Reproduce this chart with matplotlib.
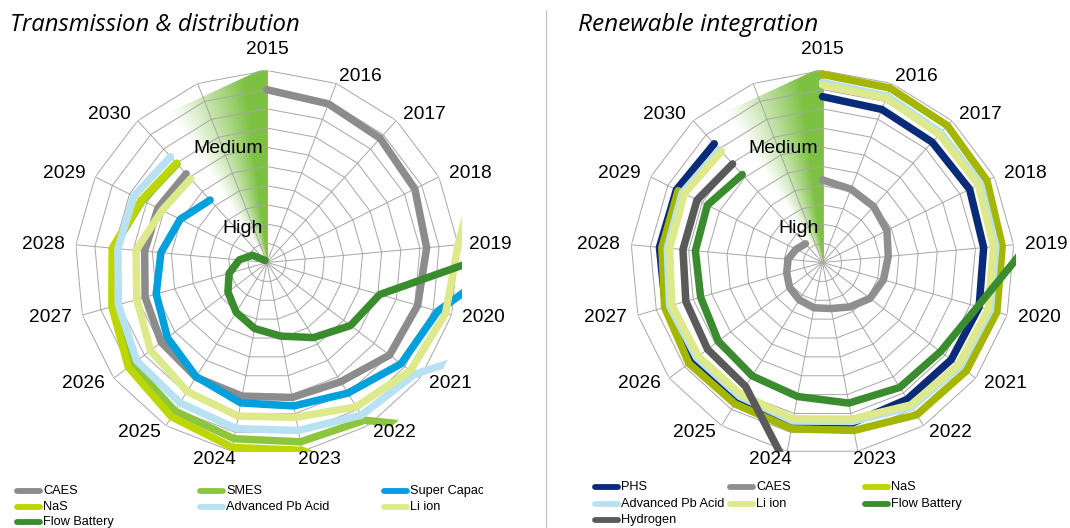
import numpy as np
import matplotlib
matplotlib.use("Agg")
import matplotlib.pyplot as plt
from matplotlib.transforms import Bbox, TransformedBbox
from matplotlib.lines import Line2D
from matplotlib.patches import Polygon

nan = np.nan

# ---------------- data ----------------
years = [str(y) for y in range(2015, 2031)]
n_spokes = 17  # 16 years + one blank category

td_names = ["CAES", "SMES", "Super Capacitor", "NaS", "Advanced Pb Acid", "Li ion", "Flow Battery"]
td_caes = [9.0, 8.86, 8.75, 8.6, 8.35, 8.16, 8.0, 7.3, 7.15, 7.08, 7.03, 6.9, 6.6, 6.4, 6.35, 6.25]
td_smes = [nan, nan, nan, nan, nan, nan, 14.8, 9.66, 9.5, 9.34, 9.1, 8.8, 8.35, 8.05, 7.25, 6.95]
td_supercap = [nan, nan, nan, nan, 14.3, 9.25, 8.75, 8.0, 7.6, 7.44, 7.0, 6.5, 6.0, 5.55, 5.05, 4.4]
td_nas = [nan, nan, nan, nan, nan, nan, nan, 14.5, 9.95, 9.8, 9.45, 9.05, 8.4, 8.1, 7.3, 7.0]
td_pbacid = [nan, nan, nan, nan, nan, 14.2, 9.65, 9.35, 8.9, 8.8, 8.6, 8.5, 8.05, 7.8, 7.75, 7.45]
td_liion = [nan, nan, nan, 12.5, 10.0, 9.67, 9.35, 8.84, 8.2, 8.14, 7.9, 7.6, 7.05, 6.85, 6.1, 5.9]
td_flow = [nan, nan, nan, nan, 14.4, 6.1, 5.45, 4.6, 3.9, 3.5, 3.05, 2.55, 2.05, 1.45, 0.85, 0.15]

ri_names = ["PHS", "CAES", "NaS", "Advanced Pb Acid", "Li ion", "Flow Battery", "Hydrogen"]
ri_phs = [8.64, 8.55, 8.48, 8.56, 8.43, 8.48, 8.4, 8.38, 8.5, 8.5, 8.45, 8.5, 8.5, 8.53, 8.5, 8.37]
ri_caes = [4.3, 4.1, 3.95, 3.75, 3.44, 3.3, 3.1, 2.72, 2.44, 2.4, 2.29, 2.15, 1.94, 1.8, 1.54, 1.32]
ri_nas = [9.8, 9.74, 9.65, 9.57, 9.4, 9.44, 9.38, 9.33, 8.9, 8.81, 8.66, 8.72, 8.55, 8.4, 8.4, nan]
ri_pbacid = [9.38, 9.3, 9.15, 9.19, 9.07, 9.09, 8.98, 8.85, 8.42, 8.4, 8.2, 8.22, 8.28, 8.12, 8.16, 7.95]
ri_liion = [9.25, 9.18, 9.03, 9.07, 8.95, 8.97, 8.86, 8.73, 8.3, 8.28, 8.08, 8.1, 8.16, 8.0, 8.04, 7.82]
ri_flow = [nan, nan, nan, nan, 10.8, 8.4, 7.7, 7.65, 7.45, 7.1, 6.95, 6.8, 6.6, 6.65, 6.7, 6.2]
ri_h2 = [nan, nan, nan, nan, nan, nan, nan, nan, nan, 10.6, 7.6, 7.5, 7.4, 7.3, 7.3, 6.95]

level_labels = ["Low", "Medium", "High"]
level_values = [10.2, 5.95, 1.75]

# ---------------- styling ----------------
W, H = 1070, 528
UNIT = 19.2
GRID = "#A6A6A6"
LW = 5.4
td_colors = ["#8C8C8C", "#8CC63F", "#00A0DC", "#BED600", "#B8E2F2", "#DDE98A", "#3B8C2F"]
ri_colors = ["#0A2C78", "#8F8F8F", "#A4B600", "#B8E2F2", "#DDE98A", "#3B8C2F", "#5A5A5A"]
ri_legend_colors = ["#0A2C78", "#8F8F8F", "#BED600", "#B8E2F2", "#DDE98A", "#3B8C2F", "#5A5A5A"]
LABEL_FONT = "Liberation Sans"
WEDGE_GREEN = np.array([0x7D, 0xC1, 0x43]) / 255.0
CLIP_R = 10.87

fig = plt.figure(figsize=(W / 100, H / 100), dpi=100)
theta = np.arange(n_spokes) * 2 * np.pi / n_spokes


def make_axes(cx, cy):
    ax = fig.add_axes([(cx - 192) / W, (H - cy - 192) / H, 384 / W, 384 / H], projection="polar")
    ax.set_theta_zero_location("N")
    ax.set_theta_direction(-1)
    ax.set_ylim(0, 10)
    ax.set_xticks([])
    ax.set_yticks([])
    ax.grid(False)
    ax.spines["polar"].set_visible(False)
    ax.set_facecolor("none")
    return ax


def draw_wedge(ax):
    a_pt = np.array([0.0, 10.15])
    phi_b = np.deg2rad(35)
    b_pt = np.array([-np.sin(phi_b) * 9.36, np.cos(phi_b) * 9.36])
    nsl = 70
    phis = np.linspace(0, 35, nsl + 1)

    def r_edge(phi_deg):
        p = np.deg2rad(phi_deg)
        d = np.array([-np.sin(p), np.cos(p)])
        m = np.array([d, a_pt - b_pt]).T
        t, s = np.linalg.solve(m, a_pt)
        return t

    for i in range(nsl):
        p0, p1 = phis[i], phis[i + 1]
        pm = 0.5 * (p0 + p1)
        a = np.clip((33.0 - pm) / 26.0, 0, 1) ** 1.1
        col = (1 - a) * np.ones(3) + a * WEDGE_GREEN
        th = [0, -np.deg2rad(p0), -np.deg2rad(p1)]
        rr = [0, r_edge(p0), r_edge(p1)]
        ax.fill(th, rr, color=col, lw=0.8, ec=col, zorder=0.5)


def draw_grid(ax):
    th_closed = np.append(theta, 2 * np.pi)
    for ring in range(1, 11):
        ax.plot(th_closed, [ring] * len(th_closed), color=GRID, lw=0.7, zorder=1)
    for k in range(n_spokes):
        ax.plot([theta[k], theta[k]], [0, 10], color=GRID, lw=0.7, zorder=1)


def draw_labels(ax):
    for k, y in enumerate(years):
        s, c = np.sin(theta[k]), np.cos(theta[k])
        dx = 204.5 * s + 20 * np.clip(4 * s, -1, 1)
        dy = 200 * c + (12.5 if k == 0 else 0)
        ax.annotate(y, xy=(0, 0), xytext=(dx * 0.72, dy * 0.72), textcoords="offset points",
                    ha="center", va="center", fontsize=13.8, family=LABEL_FONT,
                    annotation_clip=False, zorder=6)
    for lab, v in zip(level_labels, level_values):
        ax.annotate(lab, xy=(0, v), xytext=(-3, 0), textcoords="offset points",
                    ha="right", va="center", fontsize=14, family=LABEL_FONT, zorder=6)


def draw_series(ax, series, colors, clip):
    x0, x1, ytop, ybot = clip
    bb = TransformedBbox(Bbox.from_extents(x0 / W, 1 - ybot / H, x1 / W, 1 - ytop / H), fig.transFigure)
    clip_poly = Polygon(np.column_stack([theta, np.full(n_spokes, CLIP_R)]), closed=True,
                        transform=ax.transData)
    for i, (vals, col) in enumerate(zip(series, colors)):
        ln, = ax.plot(theta[:16], vals, color=col, lw=LW, solid_capstyle="round",
                      solid_joinstyle="round", zorder=3 + i * 0.1)
        ln.set_clip_path(clip_poly)
        ln.set_clip_box(bb)


def draw_legend(names, colors, col_x, row_y, clip_right):
    cb = TransformedBbox(Bbox.from_extents(0, 0, clip_right / W, 1), fig.transFigure)
    for i, (nm, col) in enumerate(zip(names, colors)):
        row, cidx = divmod(i, 3)
        x, y = col_x[cidx], row_y[row]
        fig.add_artist(Line2D([(x + 2) / W, (x + 25) / W], [1 - y / H] * 2, transform=fig.transFigure,
                              color=col, lw=4.2, solid_capstyle="round"))
        t = fig.text((x + 28) / W, 1 - y / H, nm, fontsize=9.2, family=LABEL_FONT,
                     va="center", ha="left")
        t.set_clip_box(cb)
        t.set_clip_on(True)


# ---------------- left chart ----------------
axl = make_axes(267, 262.5)
draw_wedge(axl)
draw_grid(axl)
draw_series(axl, [td_caes, td_smes, td_supercap, td_nas, td_pbacid, td_liion, td_flow],
            td_colors, (5, 462, 40, 452))
draw_labels(axl)

# ---------------- right chart ----------------
axr = make_axes(822.5, 262.5)
draw_wedge(axr)
draw_grid(axr)
draw_series(axr, [ri_phs, ri_caes, ri_nas, ri_pbacid, ri_liion, ri_flow, ri_h2],
            ri_colors, (560, 1016, 40, 452))
draw_labels(axr)

# ---------------- titles, separator, legends ----------------
fig.text(10 / W, 1 - 31 / H, "Transmission & distribution", fontsize=17.2, family="Open Sans",
         style="italic", va="baseline", ha="left")
fig.text(578 / W, 1 - 31 / H, "Renewable integration", fontsize=17.6, family="Open Sans",
         style="italic", va="baseline", ha="left")
fig.add_artist(Line2D([546 / W, 546 / W], [0, 1 - 10 / H], transform=fig.transFigure,
                      color="#BFBFBF", lw=0.8))

draw_legend(td_names, td_colors, [15, 198, 382], [491, 507, 522], 483)
draw_legend(ri_names, ri_legend_colors, [593, 728, 863], [487, 504, 520], 1070)

fig.savefig("out.png", dpi=100)
